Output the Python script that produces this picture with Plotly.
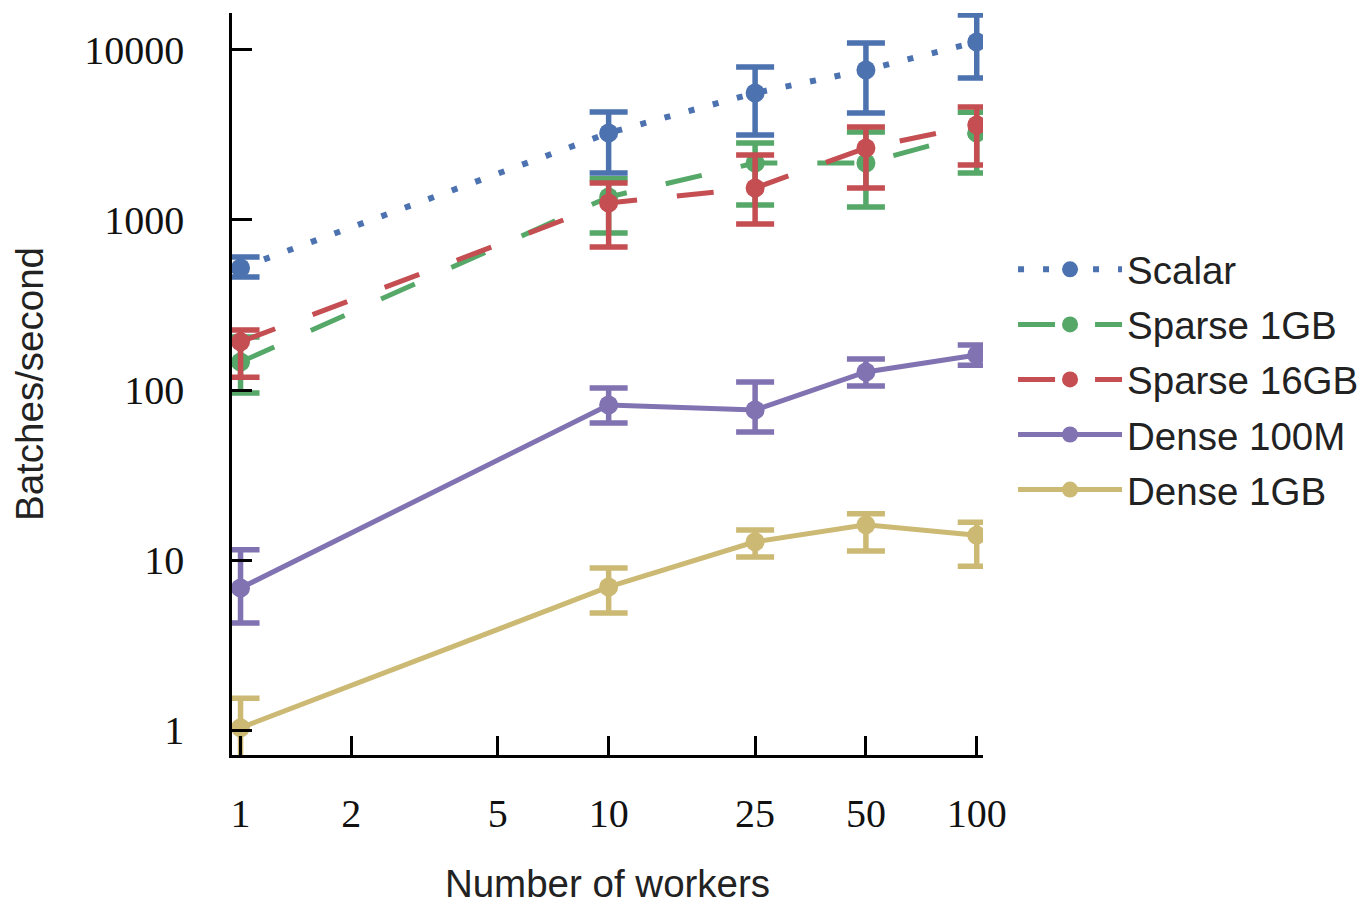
import numpy as np
import plotly.graph_objects as go

workers = [1, 10, 25, 50, 100]

scalar = [522, 3250, 5590, 7630, 11150]
scalar_hi = [606, 4320, 7940, 11000, 16070]
scalar_lo = [462, 1890, 3160, 4260, 6840]

sparse1 = [146, 1365, 2163, 2163, 3250]
sparse1_hi = [205, 1750, 2840, 3295, 4300]
sparse1_lo = [96, 839, 1225, 1192, 1890]

sparse16 = [192, 1260, 1543, 2653, 3620]
sparse16_hi = [225, 1650, 2410, 3525, 4620]
sparse16_lo = [119, 693, 947, 1543, 2108]

dense100m = [6.84, 81.6, 76.3, 127.6, 160.7]
dense100m_hi = [11.5, 102.7, 111.4, 152, 184]
dense100m_lo = [4.26, 64, 56.6, 105.6, 140]

dense1gb = [1.03, 6.94, 12.8, 16.1, 14.0]
dense1gb_hi = [1.54, 8.97, 15.0, 18.7, 16.7]
dense1gb_lo = [0.67, 4.88, 10.4, 11.3, 9.2]

x_ticks = [1, 2, 5, 10, 25, 50, 100]
y_ticks = [1, 10, 100, 1000, 10000]

series = [
    ("Scalar", scalar, scalar_hi, scalar_lo, "#4c72b0", "6px,19px", 6),
    ("Sparse 1GB", sparse1, sparse1_hi, sparse1_lo, "#55a868", "37px,40px", 5),
    ("Sparse 16GB", sparse16, sparse16_hi, sparse16_lo, "#c44e52", "37px,40px", 5),
    ("Dense 100M", dense100m, dense100m_hi, dense100m_lo, "#8172b2", "solid", 5),
    ("Dense 1GB", dense1gb, dense1gb_hi, dense1gb_lo, "#ccb974", "solid", 5),
]

fig = go.Figure()
for i, (name, v, hi, lo, col, dash, lw) in enumerate(series):
    plus = [h - a for h, a in zip(hi, v)]
    minus = [a - l for a, l in zip(v, lo)]
    fig.add_trace(go.Scatter(
        x=workers, y=v, name=name, mode="lines+markers",
        line=dict(color=col, width=lw, dash=dash),
        marker=dict(color=col, size=19),
        error_y=dict(type="data", array=plus, arrayminus=minus, symmetric=False,
                     color=col, thickness=5.5, width=19),
        legendgroup="g%d" % i,
    ))

tickfont = dict(family="Liberation Serif", size=40, color="#111")
titlefont = dict(family="Liberation Sans", size=38.5, color="#222")

fig.update_layout(
    template="none",
    width=1365, height=900,
    margin=dict(l=224, r=390, t=5, b=153, autoexpand=False),
    plot_bgcolor="white", paper_bgcolor="white",
    showlegend=True,
    legend=dict(x=1.040, y=0.697, xanchor="left", yanchor="top",
                font=dict(family="Liberation Sans", size=38.5, color="#222"),
                itemwidth=104, tracegroupgap=2, bgcolor="rgba(0,0,0,0)",
                borderwidth=0),
    xaxis=dict(type="log", range=[np.log10(0.948), np.log10(104)],
               tickvals=x_ticks, ticktext=[str(t) for t in x_ticks],
               ticks="inside", ticklen=19, tickwidth=2.5, tickcolor="black",
               showline=True, linecolor="black", linewidth=2.5, automargin=False,
               showgrid=False, zeroline=False, tickfont=tickfont,
               ticklabelstandoff=21,
               title=dict(text="Number of workers", font=titlefont, standoff=36)),
    yaxis=dict(type="log", range=[np.log10(0.713), np.log10(16500)],
               tickvals=y_ticks, ticktext=[str(t) for t in y_ticks],
               ticks="inside", ticklen=20, tickwidth=2.5, tickcolor="black",
               showline=True, linecolor="black", linewidth=2.5, automargin=False,
               showgrid=False, zeroline=False, tickfont=tickfont,
               ticklabelstandoff=37,
               title=dict(text="Batches/second", font=titlefont, standoff=30)),
)

fig.write_html("out.html")
